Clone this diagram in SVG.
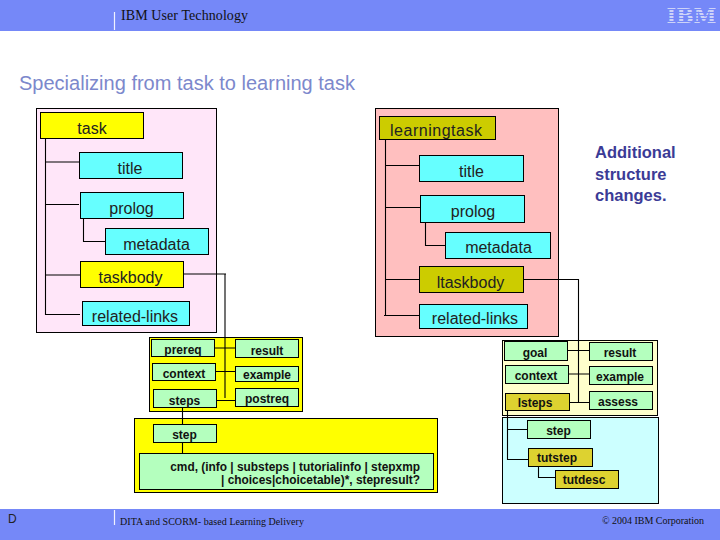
<svg xmlns="http://www.w3.org/2000/svg" width="720" height="540" viewBox="0 0 720 540">
<style>
.bar{fill:#7588F8}
.sep{stroke:#F0F2FF;stroke-width:1.2;fill:none}
.ser{font-family:"Liberation Serif",serif;fill:#111}
.p{stroke:#000;stroke-width:1}
.n rect{stroke:#000;stroke-width:1}
.big text{font-family:"Liberation Sans",Arial,sans-serif;font-size:16px;fill:#222;text-anchor:middle}
.small text{font-family:"Liberation Sans",Arial,sans-serif;font-size:12px;font-weight:bold;fill:#111;text-anchor:middle}
.y{fill:#FFFF00}.c{fill:#66FFFF}.o{fill:#CCCC00}.o2{fill:#DDD230}.g{fill:#B4FFBE}
#connectors path{fill:none;stroke:#000;stroke-width:1.1}
</style>
<rect width="720" height="540" fill="#fff"/>
<rect class="bar" width="720" height="31"/>
<rect class="bar" y="509" width="720" height="31"/>
<path class="sep" d="M114.500 12V30M114.500 510V525"/>
<text class="ser" x="121" y="20" font-size="14" textLength="127">IBM User Technology</text>
<text x="691.500" y="22.500" font-family="'DejaVu Serif',serif" font-weight="bold" font-size="21" fill="#CDD3F8" text-anchor="middle" textLength="50" lengthAdjust="spacingAndGlyphs">IBM</text>
<path stroke="#7588F8" stroke-width="1" fill="none" d="M664 9.500H718M664 12.500H718M664 15.500H718M664 18.500H718M664 21.500H718"/>
<text x="19" y="90" font-family="'Liberation Sans',Arial,sans-serif" font-size="20" fill="#7C88CC" textLength="336">Specializing from task to learning task</text>
<text font-family="'Liberation Sans',Arial,sans-serif" font-size="16.500" font-weight="bold" fill="#3B3B96"><tspan x="595" y="158">Additional</tspan><tspan x="595" y="180">structure</tspan><tspan x="595" y="201">changes.</tspan></text>
<text x="8" y="523" font-family="'Liberation Sans',Arial,sans-serif" font-size="12" fill="#222">D</text>
<text class="ser" x="120" y="525" font-size="10" textLength="184">DITA and SCORM- based Learning Delivery</text>
<text class="ser" x="602" y="524" font-size="10" textLength="102">© 2004 IBM Corporation</text>

<g id="panels">
<rect class="p" x="36.500" y="108.500" width="180" height="224" fill="#FFE6F9"/>
<rect class="p" x="375.500" y="108.500" width="183" height="228" fill="#FFBFBF"/>
<rect class="p" x="149.500" y="337.500" width="153" height="74" fill="#FFFF00"/>
<rect class="p" x="134.500" y="418.500" width="303" height="74" fill="#FFFF00"/>
<rect class="p" x="502.500" y="340.500" width="155" height="75" fill="#FFFFCC"/>
<rect class="p" x="502.500" y="417.500" width="156" height="86" fill="#CCFFFF"/>
</g>

<g id="connectors">
<path d="M45.500 138V315M45.500 162H79M45.500 204.500H79M45.500 275H80M45.500 314.500H80"/>
<path d="M83.500 218V241.500H105"/>
<path d="M183.500 274H226M225 274V398"/>
<path d="M385.500 139V315.500M385.500 165.500H419M385.500 207.500H420M385.500 279.500H419M384 315.500H419"/>
<path d="M425.500 222V245.500H445"/>
<path d="M524 279.500H578.500M578.500 279V403"/>
<path d="M214.500 348H235M215.500 371.500H235M216 400.500H235"/>
<path d="M182.500 407V424M182.500 442V453"/>
<path d="M568 350.500H589M568 374H589M570 402.500H589"/>
<path d="M507.500 410V459.500H528M507.500 429.500H527"/>
<path d="M538.500 466V477.500H555"/>
</g>

<g class="big">
<g id="task" class="n"><rect class="y" x="40.500" y="112.500" width="103" height="26"/><text x="92" y="134">task</text></g>
<g id="title-a" class="n"><rect class="c" x="79.500" y="152.500" width="103" height="26"/><text x="130" y="174">title</text></g>
<g id="prolog-a" class="n"><rect class="c" x="80.500" y="192.500" width="103" height="26"/><text x="131.500" y="214">prolog</text></g>
<g id="metadata-a" class="n"><rect class="c" x="105.500" y="228.500" width="103" height="26"/><text x="156.500" y="250">metadata</text></g>
<g id="taskbody" class="n"><rect class="y" x="80.500" y="261.500" width="103" height="26"/><text x="130.500" y="283">taskbody</text></g>
<g id="related-links-a" class="n"><rect class="c" x="82.500" y="301.500" width="107" height="24"/><text x="135" y="321.500">related-links</text></g>
<g id="learningtask" class="n"><rect class="o" x="379.500" y="116.500" width="116" height="23"/><text x="436" y="135.500" textLength="92">learningtask</text></g>
<g id="title-b" class="n"><rect class="c" x="419.500" y="155.500" width="104" height="26"/><text x="471.500" y="177">title</text></g>
<g id="prolog-b" class="n"><rect class="c" x="420.500" y="195.500" width="104" height="27"/><text x="473" y="217">prolog</text></g>
<g id="metadata-b" class="n"><rect class="c" x="445.500" y="232.500" width="105" height="26"/><text x="498.500" y="252.500">metadata</text></g>
<g id="ltaskbody" class="n"><rect class="o" x="419.500" y="266.500" width="104" height="26"/><text x="470.500" y="288">ltaskbody</text></g>
<g id="related-links-b" class="n"><rect class="c" x="419.500" y="304.500" width="108" height="24"/><text x="475" y="324">related-links</text></g>
</g>

<g class="small">
<g id="prereq" class="n"><rect class="g" x="151.500" y="339.500" width="63" height="17"/><text x="183" y="354">prereq</text></g>
<g id="result-a" class="n"><rect class="g" x="235.500" y="339.500" width="63" height="18"/><text x="267" y="355">result</text></g>
<g id="context-a" class="n"><rect class="g" x="152.500" y="363.500" width="63" height="17"/><text x="184" y="378">context</text></g>
<g id="example-a" class="n"><rect class="g" x="235.500" y="366.500" width="63" height="15"/><text x="267" y="379">example</text></g>
<g id="steps" class="n"><rect class="g" x="153.500" y="389.500" width="63" height="18"/><text x="184.500" y="405">steps</text></g>
<g id="postreq" class="n"><rect class="g" x="235.500" y="388.500" width="63" height="18"/><text x="267" y="403">postreq</text></g>
<g id="step-a" class="n"><rect class="g" x="153.500" y="424.500" width="63" height="18"/><text x="184.500" y="438.500">step</text></g>
<g id="cmd" class="n"><rect class="g" x="139.500" y="453.500" width="294" height="36"/><text x="420" y="471" style="text-anchor:end;font-size:11.900px">cmd, (info | substeps | tutorialinfo | stepxmp</text><text x="420" y="484" style="text-anchor:end;font-size:11.900px">| choices|choicetable)*, stepresult?</text></g>
<g id="goal" class="n"><rect class="g" x="504.500" y="341.500" width="63" height="19"/><text x="535" y="357">goal</text></g>
<g id="result-b" class="n"><rect class="g" x="589.500" y="342.500" width="63" height="18"/><text x="620" y="357">result</text></g>
<g id="context-b" class="n"><rect class="g" x="505.500" y="365.500" width="63" height="18"/><text x="536" y="380">context</text></g>
<g id="example-b" class="n"><rect class="g" x="589.500" y="366.500" width="63" height="18"/><text x="620" y="381">example</text></g>
<g id="lsteps" class="n"><rect class="o2" x="505.500" y="393.500" width="64" height="17"/><text x="535" y="407">lsteps</text></g>
<g id="assess" class="n"><rect class="g" x="589.500" y="391.500" width="63" height="18"/><text x="618" y="406">assess</text></g>
<g id="step-b" class="n"><rect class="g" x="527.500" y="420.500" width="63" height="18"/><text x="558.500" y="435">step</text></g>
<g id="tutstep" class="n"><rect class="o2" x="528.500" y="448.500" width="64" height="18"/><text x="557" y="462">tutstep</text></g>
<g id="tutdesc" class="n"><rect class="o2" x="555.500" y="470.500" width="63" height="18"/><text x="584" y="484">tutdesc</text></g>
</g>
</svg>
